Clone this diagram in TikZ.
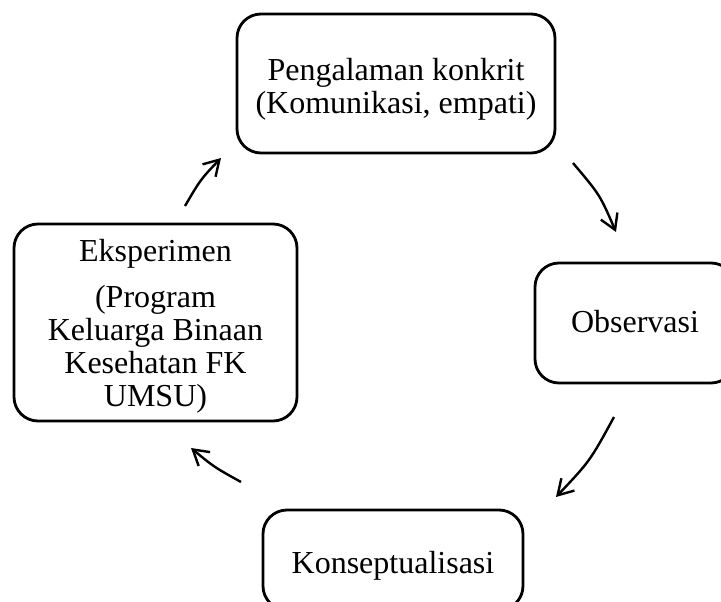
\documentclass[tikz,border=0pt]{standalone}
\usepackage{fontspec}
\setmainfont{Liberation Serif}
\usetikzlibrary{arrows.meta}
\begin{document}
\begin{tikzpicture}[x=1pt,y=-1pt,
  stagebox/.style={draw=black,line width=2.8pt,rounded corners=24pt,inner sep=0pt},
  stagetext/.style={inner sep=0pt,align=center,font=\fontsize{32}{33}\selectfont},
  cyclearrow/.style={draw=black,line width=2.4pt,-{Straight Barb[length=15pt,width=18pt,line width=2.4pt]}}]
\useasboundingbox (0,0) rectangle (721,602);
\node[stagebox,minimum width=318pt,minimum height=139pt] (peng) at (396,83.5) {};
\node[stagetext] (pengtext) at ([yshift=-6pt]peng.center) {Pengalaman konkrit\\(Komunikasi, empati)};
\node[stagebox,minimum width=200pt,minimum height=120pt] (obs) at (635,323) {};
\node[stagetext] (obstext) at ([yshift=1pt]obs.center) {Observasi};
\node[stagebox,minimum width=260pt,minimum height=100pt] (kons) at (393,560) {};
\node[stagetext] (konstext) at ([yshift=-6pt]kons.center) {Konseptualisasi};
\node[stagebox,minimum width=283pt,minimum height=197pt] (eksp) at (155.5,322.5) {};
\node[stagetext] (eksptext) at ([yshift=-4pt]eksp.center)
  {Eksperimen\\[13pt](Program\\Keluarga Binaan\\Kesehatan FK\\UMSU)};
\coordinate (a1s) at (185,206); \coordinate (a1e) at (221,158);
\coordinate (a2s) at (573,163); \coordinate (a2e) at (616,232);
\coordinate (a3s) at (614,417); \coordinate (a3e) at (556,497);
\coordinate (a4s) at (241,482); \coordinate (a4e) at (191,448);
\draw[cyclearrow] (a1s) .. controls (200.5,179.5) .. (a1e);
\draw[cyclearrow] (a2s) .. controls (600,195) .. (a2e);
\draw[cyclearrow] (a3s) .. controls (590,461) .. (a3e);
\draw[cyclearrow] (a4s) .. controls (214,467) .. (a4e);
\end{tikzpicture}
\end{document}
